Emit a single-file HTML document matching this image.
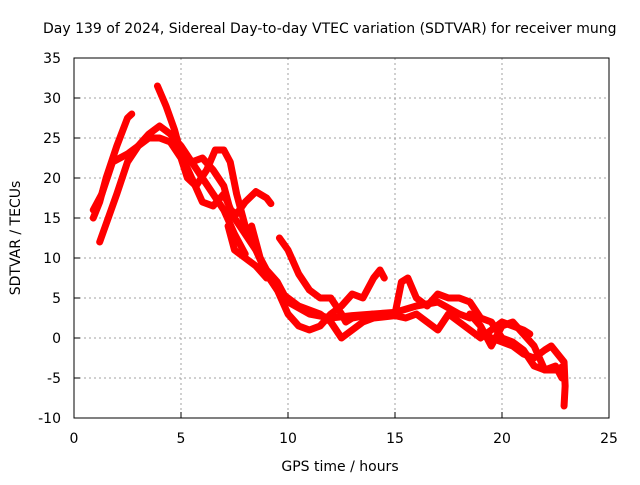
<!DOCTYPE html>
<html><head><meta charset="utf-8"><style>
body{margin:0;background:#fff;overflow:hidden}
svg text{font-family:"DejaVu Sans","Liberation Sans",sans-serif;font-size:14px;fill:#000}
</style></head><body>
<svg id="c" width="640" height="480"></svg>
<script>
const xTicks=[0,5,10,15,20,25];
const yTicks=[-10,-5,0,5,10,15,20,25,30,35];
const t1=[[0.9,15],[1.2,17],[1.5,20],[2,24],[2.5,27.5],[2.7,28]];
const t2=[[1.2,12],[1.6,15],[2,18],[2.5,22],[3,24],[3.5,25.5],[4,26.5],[4.5,25.5],[5,24],[5.5,22],[6,20],[6.5,18],[7,16],[7.5,13],[8,10.5]];
const t3=[[0.9,16],[1.3,18],[1.8,22],[2.5,23],[3,24],[3.5,25],[4,25],[4.5,24.5],[5,22.5],[5.3,20],[5.7,19],[6.2,21],[6.6,23.5],[7,23.5],[7.3,22],[7.6,18],[8,14],[8.5,11],[9,8.5],[9.5,7],[10,4.5],[11,3],[12,2.5],[13,2.8],[14,3],[15,3.2],[16,4],[17,4.5],[18,3],[18.5,2.5]];
const t4=[[3.9,31.5],[4.3,29],[4.7,26],[5,23],[5.5,20],[6,17],[6.5,16.5],[7,18],[7.5,15],[8,13],[8.5,11],[9,8],[9.5,6],[10,3],[10.5,1.5],[11,1],[11.5,1.5],[12,3],[12.5,4],[13,5.5],[13.5,5],[14,7.5],[14.3,8.5],[14.5,7.5]];
const t5=[[5.5,22],[6,22.5],[6.5,21],[7,19],[7.3,16],[7.6,15.5],[8,17],[8.5,18.3],[9,17.5],[9.2,16.8]];
const t6=[[9.6,12.5],[10,11],[10.5,8],[11,6],[11.5,5],[12,5],[12.5,3],[12.7,2],[13,2.5],[14,3],[15,3],[15.3,7],[15.6,7.5],[16,5],[16.5,4],[17,5.5],[17.5,5],[18,5],[18.5,4.5],[19,2.5],[19.5,2],[20,0],[20.5,-0.5],[21,-1.5],[21.5,-3.5],[22,-4],[22.5,-4],[22.9,-3.5]];
const t7=[[8.3,14],[8.7,10],[9,8],[9.5,6],[10,5],[10.5,4],[11,3.5],[11.5,3],[12,2],[12.5,0],[13,1],[13.5,2],[14,2.5],[15,2.8],[15.5,2.5],[16,3],[16.5,2],[17,1],[17.5,3],[18,2],[18.5,1],[19,0],[19.5,1],[20,2],[20.5,1.5],[21,1],[21.3,0.5]];
const t8=[[19,1],[19.5,0],[20,-0.5],[20.5,-1],[21,-2],[21.5,-2.5],[22,-1.5],[22.3,-1],[22.6,-2],[22.9,-3],[22.95,-6],[22.9,-8.5]];
const t9=[[18.5,3],[19,1.5],[19.5,-1],[20,1.5],[20.5,2],[21,0.5],[21.5,-1],[22,-4],[22.5,-3.5],[22.8,-5]];
const t10=[[7.2,14],[7.5,11],[8,10],[8.5,9],[9,7.5]];
const series=[t1,t2,t3,t4,t5,t6,t7,t8,t9,t10];
const L=74,R=609,T=58,B=418,xmin=0,xmax=25,ymin=-10,ymax=35;
const X=v=>L+(v-xmin)/(xmax-xmin)*(R-L);
const Y=v=>B-(v-ymin)/(ymax-ymin)*(B-T);
const svg=document.getElementById('c');const NS='http://www.w3.org/2000/svg';
function mk(t,a){const e=document.createElementNS(NS,t);for(const k in a)e.setAttribute(k,a[k]);svg.appendChild(e);return e;}
xTicks.forEach(v=>{
 if(v>xmin&&v<xmax){const g=mk('line',{x1:X(v),x2:X(v),y1:T,y2:B,stroke:'#a0a0a0','stroke-dasharray':'2,3'});
 
 }
 const tk=mk('line',{x1:X(v),x2:X(v),y1:B,y2:B-6,stroke:'#000'});
 
 
 const t=mk('text',{x:X(v),y:B+25,'text-anchor':'middle'});t.textContent=v;
 
 
});
yTicks.forEach(v=>{
 if(v>ymin&&v<ymax){const g=mk('line',{x1:L,x2:R,y1:Y(v),y2:Y(v),stroke:'#a0a0a0','stroke-dasharray':'2,3'});
 
 }
 const tk=mk('line',{x1:L,x2:L+6,y1:Y(v),y2:Y(v),stroke:'#000'});
 
 
 const t=mk('text',{x:L-13,y:Y(v)+5,'text-anchor':'end'});t.textContent=v;
 
 
});
series.forEach((s,i)=>{
 const p=mk('polyline',{points:s.map(d=>X(d[0])+','+Y(d[1])).join(' '),fill:'none',stroke:'#ff0000','stroke-width':7,'stroke-linejoin':'round','stroke-linecap':'round'});
 
 
});
const fr=mk('rect',{x:L,y:T,width:R-L,height:B-T,fill:'none',stroke:'#000'});


</script>
<svg width="640" height="480" style="position:absolute;left:0;top:0">
<text x="43" y="33">Day 139 of 2024, Sidereal Day-to-day VTEC variation (SDTVAR) for receiver mung</text>
<text x="340" y="471" text-anchor="middle">GPS time / hours</text>
<text x="0" y="0" text-anchor="middle" transform="translate(20,238) rotate(-90)">SDTVAR / TECUs</text>
</svg>
</body></html>
